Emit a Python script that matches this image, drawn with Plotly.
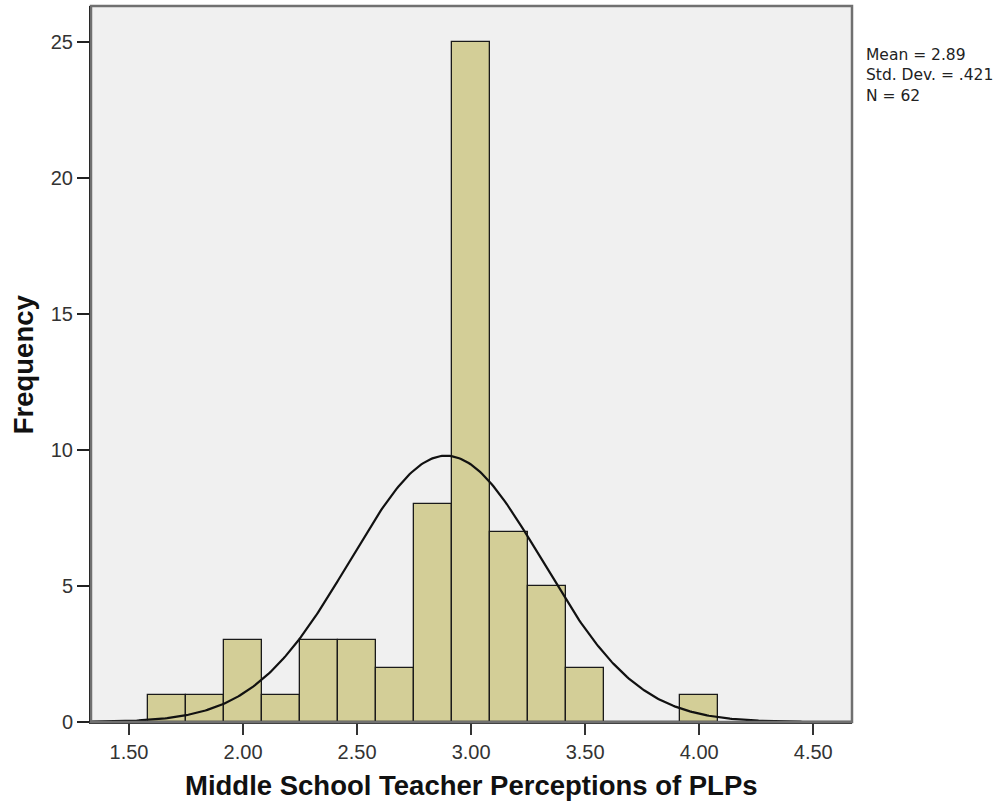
import numpy as np
import plotly.graph_objects as go

# ---- data ----
bin_centers = [1.6667, 1.8333, 2.0, 2.1667, 2.3333, 2.5, 2.6667, 2.8333,
               3.0, 3.1667, 3.3333, 3.5, 3.6667, 3.8333, 4.0]
counts = [1, 1, 3, 1, 3, 3, 2, 8, 25, 7, 5, 2, 0, 0, 1]
bin_width = 1 / 6
mean_val = 2.89
sd_val = 0.421
n_val = 62
x_ticks = [1.5, 2.0, 2.5, 3.0, 3.5, 4.0, 4.5]
x_tick_labels = ["1.50", "2.00", "2.50", "3.00", "3.50", "4.00", "4.50"]
y_ticks = [0, 5, 10, 15, 20, 25]
stats_lines = ["Mean = 2.89", "Std. Dev. = .421", "N = 62"]
x_title = "Middle School Teacher Perceptions of PLPs"
y_title = "Frequency"

x_range = [1.3333, 4.670]
y_range = [0, 26.33]

# normal curve fitted from the displayed statistics
xc = np.linspace(x_range[0], x_range[1], 400)
yc = n_val * bin_width / (sd_val * np.sqrt(2 * np.pi)) * np.exp(-0.5 * ((xc - mean_val) / sd_val) ** 2)

fig = go.Figure()
fig.add_trace(go.Bar(
    x=bin_centers, y=counts, width=bin_width,
    marker=dict(color="#d3ce97", line=dict(color="#1a1a1a", width=1.3)),
    showlegend=False, hoverinfo="x+y",
))
fig.add_trace(go.Scatter(
    x=xc, y=yc, mode="lines", line=dict(color="#111111", width=2.2),
    showlegend=False, hoverinfo="skip",
))

fig.update_layout(
    width=1007, height=805,
    margin=dict(l=91, r=155, t=6, b=83),
    paper_bgcolor="white", plot_bgcolor="#f0f0f0",
    bargap=0,
    font=dict(family="Liberation Sans, Arial, sans-serif", color="#222222"),
    xaxis=dict(
        range=x_range, tickvals=x_ticks, ticktext=x_tick_labels,
        ticks="outside", ticklen=11, tickwidth=2, tickcolor="#333333",
        showgrid=False, zeroline=False,
        showline=True, linecolor="#333333", linewidth=2,
        tickfont=dict(size=20, color="#333333"),
    ),
    yaxis=dict(
        range=y_range, tickvals=y_ticks,
        ticks="outside", ticklen=12, tickwidth=2, tickcolor="#222222",
        showgrid=False, zeroline=False,
        showline=True, linecolor="#111111", linewidth=2,
        tickfont=dict(size=20, color="#333333"),
    ),
    shapes=[dict(
        type="rect", xref="paper", yref="paper", x0=0, y0=0, x1=1, y1=1,
        line=dict(color="#707070", width=2.5), layer="above",
    )],
)

annotations = [
    dict(text="<b>" + x_title + "</b>", xref="paper", yref="paper",
         x=0.5, y=-0.088, xanchor="center", yanchor="middle", showarrow=False,
         font=dict(size=27.5, color="#111111", family="Liberation Sans, Arial, sans-serif")),
    dict(text="<b>" + y_title + "</b>", xref="paper", yref="paper",
         x=-0.089, y=0.5, xanchor="center", yanchor="middle", textangle=-90, showarrow=False,
         font=dict(size=27.5, color="#111111", family="Liberation Sans, Arial, sans-serif")),
]
for i, line in enumerate(stats_lines):
    annotations.append(dict(
        text=line, xref="paper", yref="paper",
        x=1.016, y=1 - (55 + 20.5 * i - 6) / 716, xanchor="left", yanchor="middle",
        showarrow=False,
        font=dict(size=15.5, color="#222222", family="DejaVu Sans, sans-serif"),
    ))
fig.update_layout(annotations=annotations)

fig.write_html("out.html", config={"displayModeBar": False},
               post_script="document.body.style.margin='0';document.body.style.overflow='hidden';")
